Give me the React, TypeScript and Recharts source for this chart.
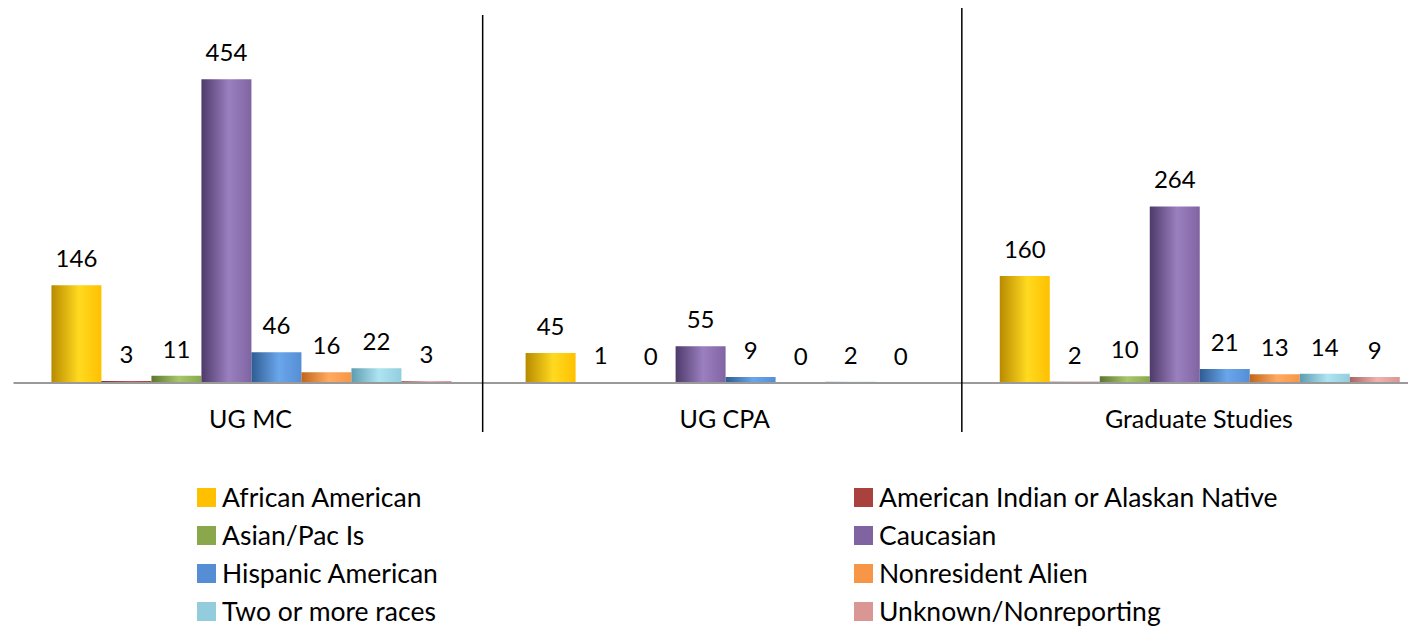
import * as React from 'react';
import { BarChart, Bar, XAxis, YAxis, LabelList, Legend } from 'recharts';

// enrollment by program and ethnicity
const categories = ['UG MC', 'UG CPA', 'Graduate Studies'];

const africanAmerican = [146, 45, 160];
const americanIndian = [3, 1, 2];
const asianPacIs = [11, 0, 10];
const caucasian = [454, 55, 264];
const hispanicAmerican = [46, 9, 21];
const nonresidentAlien = [16, 0, 13];
const twoOrMore = [22, 2, 14];
const unknown = [3, 0, 9];

const data = categories.map((name, i) => ({
  name,
  aa: africanAmerican[i],
  ai: americanIndian[i],
  asian: asianPacIs[i],
  cauc: caucasian[i],
  hisp: hispanicAmerican[i],
  nra: nonresidentAlien[i],
  two: twoOrMore[i],
  unk: unknown[i],
}));

// key, legend name, flat colour, gradient dark / light
const series = [
  { key: 'aa', name: 'African American', color: '#FFC000', dark: '#B88A00', light: '#FFDA20' },
  { key: 'ai', name: 'American Indian or Alaskan Native', color: '#A9423F', dark: '#7A2E2C', light: '#C4524F' },
  { key: 'asian', name: 'Asian/Pac Is', color: '#8AA84B', dark: '#5E7630', light: '#A8C76C' },
  { key: 'cauc', name: 'Caucasian', color: '#8064A2', dark: '#4E3A6A', light: '#9B80C0' },
  { key: 'hisp', name: 'Hispanic American', color: '#558ED5', dark: '#2F5C93', light: '#6AA6EC' },
  { key: 'nra', name: 'Nonresident Alien', color: '#F79646', dark: '#C0661C', light: '#FFAA62' },
  { key: 'two', name: 'Two or more races', color: '#93CDDD', dark: '#5E9CB0', light: '#AEE4F2' },
  { key: 'unk', name: 'Unknown/Nonreporting', color: '#D99694', dark: '#A86462', light: '#EEB3B1' },
];

const colorByKey: Record<string, string> = {};
series.forEach((s) => (colorByKey[s.key] = s.color));

function CategoryTick(props: any) {
  const { x, y, payload, index } = props;
  const half = payload.offset ?? 237;
  const sepX = x - half + (index === 1 ? -5 : 0);
  return (
    <g>
      <text x={x} y={y + 45} textAnchor="middle" fontSize={25} fill="#000">
        {payload.value}
      </text>
      {index > 0 && (
        <line x1={sepX} x2={sepX} y1={y - (index === 1 ? 368 : 375)} y2={y + 49} stroke="#000" strokeWidth={1.5} />
      )}
    </g>
  );
}

function LegendBox(props: any) {
  const items = props.payload || [];
  return (
    <div style={{ position: 'relative', width: 1416, height: 144 }}>
      {items.map((p: any, i: number) => (
        <div
          key={p.value}
          style={{
            position: 'absolute',
            left: i % 2 === 0 ? 197 : 854,
            top: Math.floor(i / 2) * 38,
            height: 34,
            display: 'flex',
            alignItems: 'center',
            whiteSpace: 'nowrap',
          }}
        >
          <span style={{ display: 'inline-block', width: 19, height: 19, background: colorByKey[p.dataKey], marginRight: 6 }} />
          <span style={{ fontSize: 26.5, lineHeight: '28px', color: '#000' }}>{p.value}</span>
        </div>
      ))}
    </div>
  );
}

export default function App() {
  return (
    <div style={{ margin: '-8px 0 0 -8px', width: 1416, height: 626, overflow: 'hidden', position: 'relative', fontFamily: 'Lato' }}>
      <BarChart
        width={1436}
        height={626}
        data={data}
        margin={{ top: 48.5, right: 0, bottom: 183, left: 13.5 }}
        barCategoryGap="8%"
        barGap={0}
      >
        <defs>
          {series.map((s) => (
            <linearGradient key={s.key} id={'g-' + s.key} x1="0" y1="0" x2="1" y2="0">
              <stop offset="0%" stopColor={s.dark} />
              <stop offset="55%" stopColor={s.light} />
              <stop offset="100%" stopColor={s.color} />
            </linearGradient>
          ))}
        </defs>
        <XAxis
          dataKey="name"
          height={60}
          axisLine={{ stroke: '#9a9a9a', strokeWidth: 2 }}
          tickLine={false}
          tickSize={0}
          tickMargin={0}
          tick={<CategoryTick />}
          interval={0}
        />
        <YAxis hide domain={[0, 500]} />
        <Legend
          layout="horizontal"
          verticalAlign="middle"
          align="center"
          wrapperStyle={{ top: 480, left: 0, width: 1416 }}
          content={<LegendBox />}
        />
        {series.map((s) => (
          <Bar
            key={s.key}
            dataKey={s.key}
            name={s.name}
            fill={`url(#g-${s.key})`}
            minPointSize={0.01}
            isAnimationActive={false}
          >
            <LabelList dataKey={s.key} position="top" offset={18} fontSize={24} fill="#000" />
          </Bar>
        ))}
      </BarChart>
    </div>
  );
}
